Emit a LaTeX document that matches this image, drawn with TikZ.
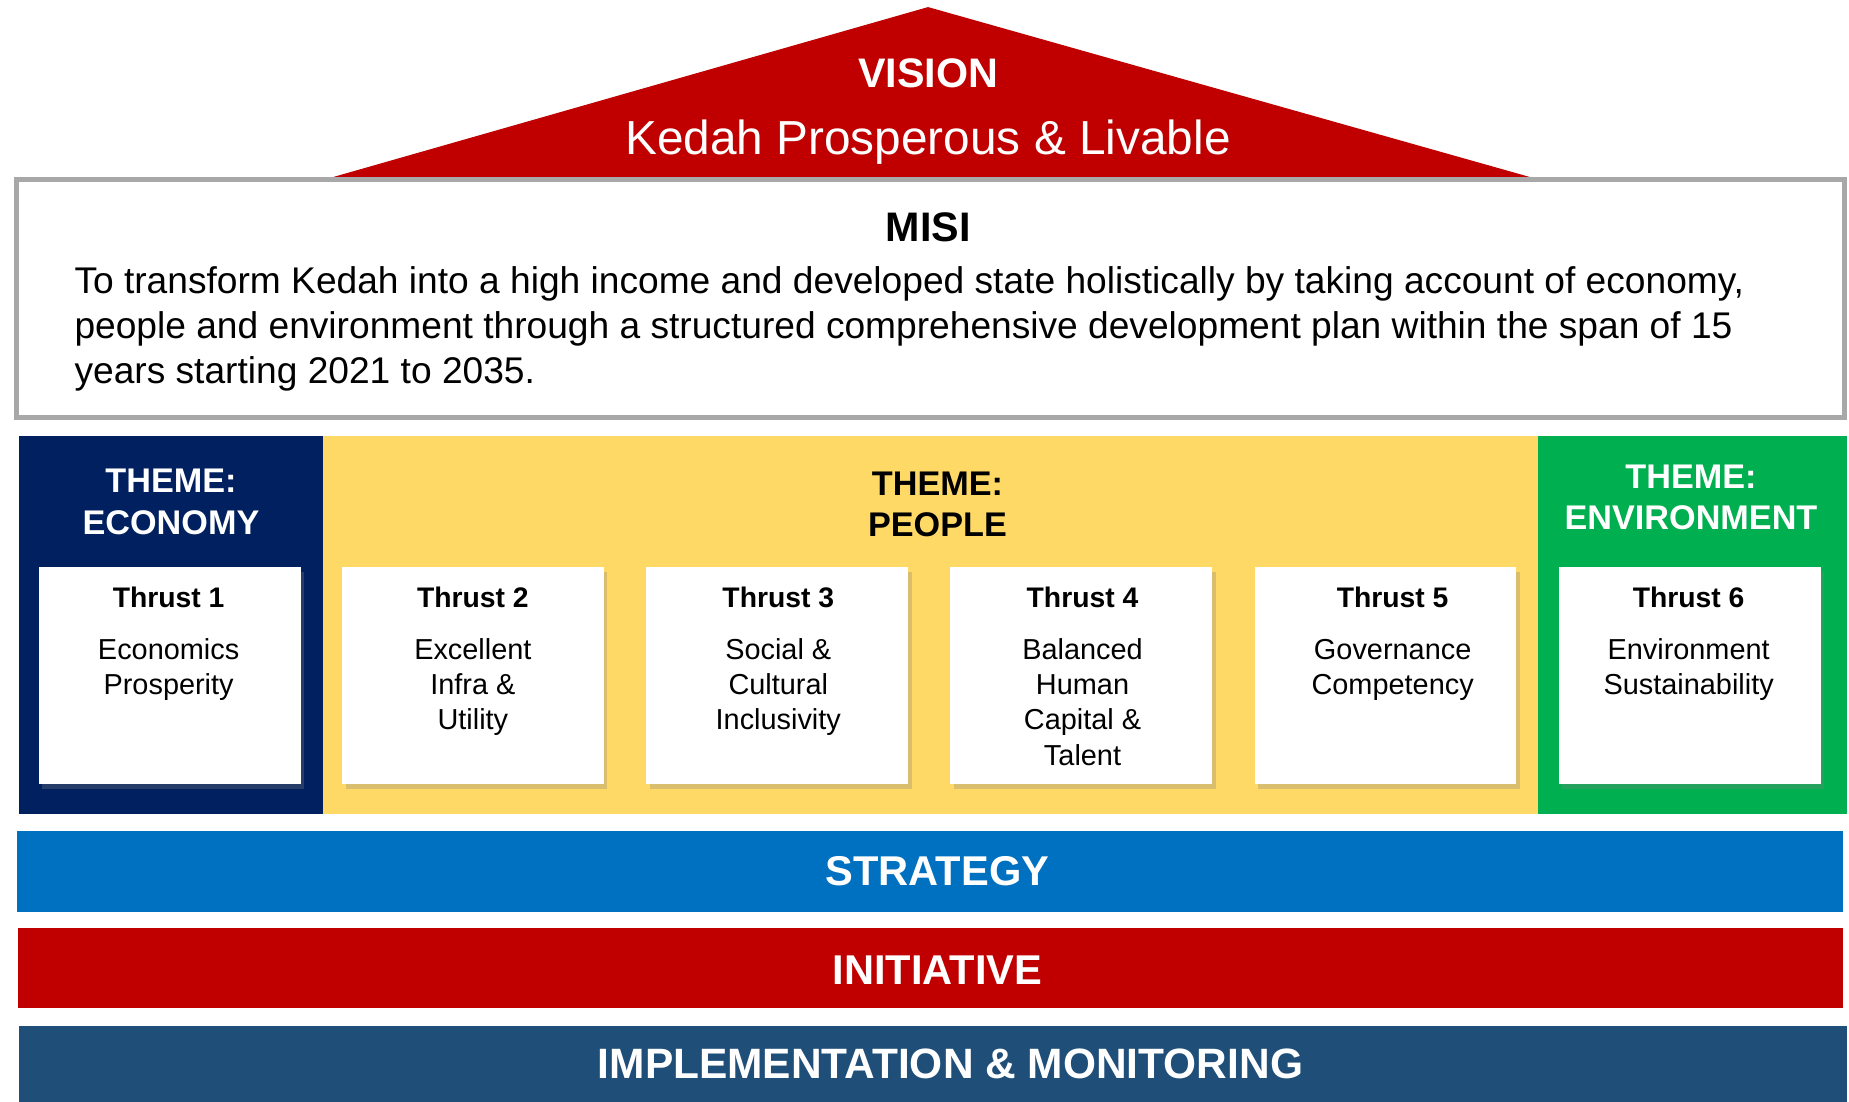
\documentclass[tikz,border=0pt]{standalone}
\usepackage{fontspec}
\setmainfont{Liberation Sans}
\usepackage{tikz}
\usetikzlibrary{positioning, shadows}

\definecolor{visionred}{RGB}{192, 0, 0}
\definecolor{misigray}{RGB}{168, 168, 168}
\definecolor{econavy}{RGB}{0, 32, 96}
\definecolor{peopleyellow}{RGB}{255, 217, 102}
\definecolor{envgreen}{RGB}{0, 176, 80}
\definecolor{stratblue}{RGB}{0, 112, 192}
\definecolor{implblue}{RGB}{31, 78, 121}

\begin{document}
\begin{tikzpicture}[x=1pt, y=-1pt,
  themebox/.style={inner sep=0pt, minimum height=320pt},
  themelabel/.style={font=\bfseries\fontsize{29}{35}\selectfont, align=center, anchor=base},
  thrustcard/.style={fill=white, minimum width=222pt, minimum height=184pt, inner sep=0pt,
    drop shadow={shadow xshift=3pt, shadow yshift=-4pt, opacity=0.3}},
  thrusttitle/.style={font=\bfseries\fontsize{24}{30}\selectfont, anchor=base},
  thrustbody/.style={font=\fontsize{24.5}{30}\selectfont, align=center, anchor=base},
  band/.style={inner sep=0pt, minimum height=68pt},
  bandlabel/.style={font=\bfseries\fontsize{35.3}{42}\selectfont, text=white, anchor=base}]

  \useasboundingbox (0,0) rectangle (1568,934);

  % Vision roof
  \fill[visionred] (283,150) -- (787,6) -- (1297,150) -- cycle;
  \node[font=\bfseries\fontsize{35}{42}\selectfont, text=white, anchor=base] (vision) at (787,74) {VISION};
  \node[font=\fontsize{40.5}{48}\selectfont, text=white, anchor=base] (kedah) at (787,131) {Kedah Prosperous \& Livable};

  % Misi
  \node[draw=misigray, line width=4pt, fill=white, minimum width=1550pt, minimum height=202pt, inner sep=0pt] (misi) at (789,253) {};
  \node[font=\bfseries\fontsize{35}{42}\selectfont, anchor=base] (misititle) at (787,205) {MISI};
  % (base of a multi-line node = its last line)
  \node[font=\fontsize{31.5}{38}\selectfont, align=left, anchor=base west, inner sep=0pt] (misitext) at (63,325) {To transform Kedah into a high income and developed state holistically by taking account of economy,\\
    people and environment through a structured comprehensive development plan within the span of 15\\
    years starting 2021 to 2035.};

  % Themes
  \node[themebox, fill=econavy, minimum width=258pt] (economy) at (145,530) {};
  \node[themebox, fill=peopleyellow, minimum width=1030pt] (people) at (789,530) {};
  \node[themebox, fill=envgreen, minimum width=262pt] (environment) at (1435,530) {};
  \node[themelabel, text=white] (economylabel) at (145,453) {THEME:\\ECONOMY};
  \node[themelabel] (peoplelabel) at (795,455) {THEME:\\PEOPLE};
  \node[themelabel, text=white] (envlabel) at (1434,449) {THEME:\\ENVIRONMENT};

  % Thrust cards
  \foreach \i/\x/\tx/\yb/\txt in {1/144/143/589/{Economics\\Prosperity}, 2/401/401/619/{Excellent\\Infra \&\\Utility},
      3/659/660/619/{Social \&\\Cultural\\Inclusivity}, 4/917/918/649/{Balanced\\Human\\Capital \&\\Talent},
      5/1175/1181/589/{Governance\\Competency}, 6/1433/1432/589/{Environment\\Sustainability}} {
    \node[thrustcard] (t\i) at (\x,573) {};
    \node[thrusttitle] (t\i title) at (\tx,515) {Thrust \i};
    \node[thrustbody] (t\i body) at (\tx,\yb) {\txt};
  }

  % Strategy, initiative, implementation
  \node[band, fill=stratblue, minimum width=1549pt] (strategy) at (788.5,739) {};
  \node[bandlabel] (strategylabel) at (795,751) {STRATEGY};
  \node[band, fill=visionred, minimum width=1548pt] (initiative) at (789,821) {};
  \node[bandlabel] (initiativelabel) at (795,835) {INITIATIVE};
  \node[band, fill=implblue, minimum width=1550pt, minimum height=70pt] (implementation) at (791,905) {};
  \node[bandlabel, font=\bfseries\fontsize{36}{42}\selectfont] (implementationlabel) at (806,915) {IMPLEMENTATION \& MONITORING};
\end{tikzpicture}
\end{document}
